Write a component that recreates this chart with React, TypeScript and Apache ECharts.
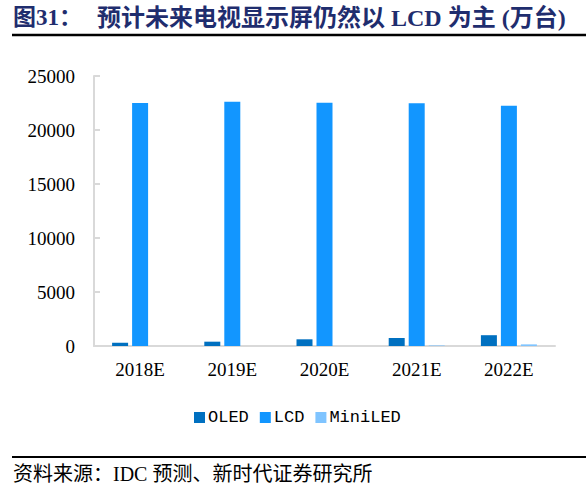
import React, { useEffect, useRef } from "react";
import * as echarts from "echarts";

const years = ["2018E", "2019E", "2020E", "2021E", "2022E"];
const oled = [300, 400, 620, 740, 1000];
const lcd = [22500, 22620, 22530, 22470, 22250];
const miniLed = [0, 0, 0, 50, 150];
const yTicks = { min: 0, max: 25000, interval: 5000 };

const titleText = "图31：";
const titleMain = "预计未来电视显示屏仍然以 LCD 为主 (万台)";
const sourceText = "资料来源：IDC 预测、新时代证券研究所";

const serif = '"Liberation Serif", "Noto Sans CJK SC", serif';

const App: React.FC = () => {
  const chartRef = useRef<HTMLDivElement>(null);

  useEffect(() => {
    document.body.style.margin = "0";
    const chart = echarts.init(chartRef.current!, undefined, { renderer: "svg" });

    chart.setOption({
      animation: false,
      backgroundColor: "#ffffff",
      textStyle: { fontFamily: serif },
      grid: { left: 94, right: 31, top: 76, bottom: 143 },
      legend: {
        top: 404,
        left: 189,
        itemWidth: 11,
        itemHeight: 11,
        itemGap: 11,
        icon: "rect",
        textStyle: { fontFamily: "Liberation Mono", fontSize: 17, color: "#000", padding: [0, 0, 0, -2] },
        data: ["OLED", "LCD", "MiniLED"],
      },
      xAxis: {
        type: "category",
        data: years,
        axisLine: { lineStyle: { color: "#d9d9d9", width: 2 } },
        axisTick: { show: false },
        axisLabel: { color: "#000", fontFamily: "Liberation Serif", fontSize: 19, margin: 14 },
      },
      yAxis: {
        type: "value",
        ...yTicks,
        axisLine: { show: true, lineStyle: { color: "#d9d9d9", width: 2 } },
        axisTick: { show: true, inside: true, length: 6, lineStyle: { color: "#d9d9d9", width: 2 } },
        splitLine: { show: false },
        axisLabel: {
          color: "#000",
          fontFamily: "Liberation Serif",
          fontSize: 19,
          margin: 19,
          formatter: (v: number) => String(v),
        },
      },
      series: [
        { name: "OLED", type: "bar", data: oled, barWidth: 16, barGap: "25%", itemStyle: { color: "#0070C0" } },
        { name: "LCD", type: "bar", data: lcd, barWidth: 16, barGap: "25%", itemStyle: { color: "#1296FF" } },
        { name: "MiniLED", type: "bar", data: miniLed, barWidth: 16, barGap: "25%", itemStyle: { color: "#7FC4FF" } },
      ],
      graphic: [
        {
          type: "text",
          left: 13,
          top: 6,
          style: { text: titleText, font: `bold 23px ${serif}`, fill: "#1F2D6E" },
        },
        {
          type: "text",
          left: 97,
          top: 6,
          style: { text: titleMain, font: `bold 24px ${serif}`, fill: "#1F2D6E" },
        },
        {
          type: "line",
          shape: { x1: 12, y1: 35, x2: 586, y2: 35 },
          style: { stroke: "#000", lineWidth: 2.5 },
        },
        {
          type: "line",
          shape: { x1: 12, y1: 457, x2: 586, y2: 457 },
          style: { stroke: "#000", lineWidth: 2 },
        },
        {
          type: "text",
          left: 13,
          top: 464,
          style: { text: sourceText, font: `20px ${serif}`, fill: "#000" },
        },
      ],
    });

    return () => {
      chart.dispose();
    };
  }, []);

  return <div ref={chartRef} style={{ width: 586, height: 489 }} />;
};

export default App;
